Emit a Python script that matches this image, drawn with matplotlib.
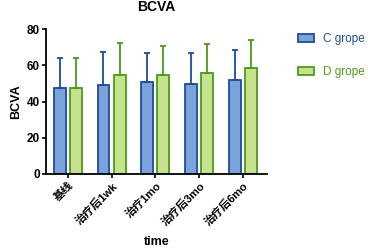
import matplotlib
matplotlib.use("Agg")
import matplotlib.pyplot as plt
import numpy as np

plt.rcParams['font.family'] = ['Liberation Sans', 'Noto Sans CJK SC', 'DejaVu Sans']

categories = ["基线", "治疗后1wk", "治疗1mo", "治疗后3mo", "治疗后6mo"]
c_mean = [47.7, 49.2, 51.0, 49.6, 51.8]
c_sd = [16.1, 18.3, 16.0, 17.4, 16.8]
d_mean = [47.2, 54.7, 54.4, 55.9, 58.4]
d_sd = [16.6, 17.6, 16.4, 16.0, 15.7]

c_fill, c_edge = "#7ba3db", "#1f4b99"
d_fill, d_edge = "#c6e28e", "#4d9a1c"

fig = plt.figure(figsize=(3.68, 2.5), dpi=100)
ax = fig.add_axes([0.125, 0.304, 0.60, 0.58])

x = np.arange(len(categories))
w = 0.27
off = 0.185
ax.bar(x - off, c_mean, w, color=c_fill, edgecolor=c_edge, linewidth=1.3,
       yerr=[np.zeros(len(c_sd)), c_sd], error_kw=dict(ecolor=c_edge, elinewidth=1.3, capsize=2, capthick=1.3),
       label="C grope")
ax.bar(x + off, d_mean, w, color=d_fill, edgecolor=d_edge, linewidth=1.3,
       yerr=[np.zeros(len(d_sd)), d_sd], error_kw=dict(ecolor=d_edge, elinewidth=1.3, capsize=2, capthick=1.3),
       label="D grope")

ax.set_xlim(-0.5, 4.55)
ax.set_ylim(0, 80)
ax.set_yticks([0, 20, 40, 60, 80])
ax.set_xticks(x)
ax.set_xticklabels(categories, rotation=45, ha="right", rotation_mode="anchor",
                   fontsize=8, fontweight="bold")
for lab in ax.get_yticklabels():
    lab.set_fontsize(8.5)
    lab.set_fontweight("bold")
ax.tick_params(axis="both", width=1.2, length=3, pad=1.5)
for s in ["top", "right"]:
    ax.spines[s].set_visible(False)
for s in ["left", "bottom"]:
    ax.spines[s].set_linewidth(1.3)

ax.set_title("BCVA", fontsize=10, fontweight="bold", pad=13)
ax.set_ylabel("BCVA", fontsize=9, fontweight="bold", labelpad=3)
ax.set_xlabel("time", fontsize=9, fontweight="bold", labelpad=6)

h, l = ax.get_legend_handles_labels()
leg = fig.legend(h, l, loc="upper left", bbox_to_anchor=(0.795, 0.89), frameon=False,
                 fontsize=8.5, handlelength=1.35, handleheight=0.6, labelspacing=1.75,
                 handletextpad=0.75, borderpad=0)
for t, col in zip(leg.get_texts(), [c_edge, d_edge]):
    t.set_color(col)

fig.savefig("out.png", dpi=100)
